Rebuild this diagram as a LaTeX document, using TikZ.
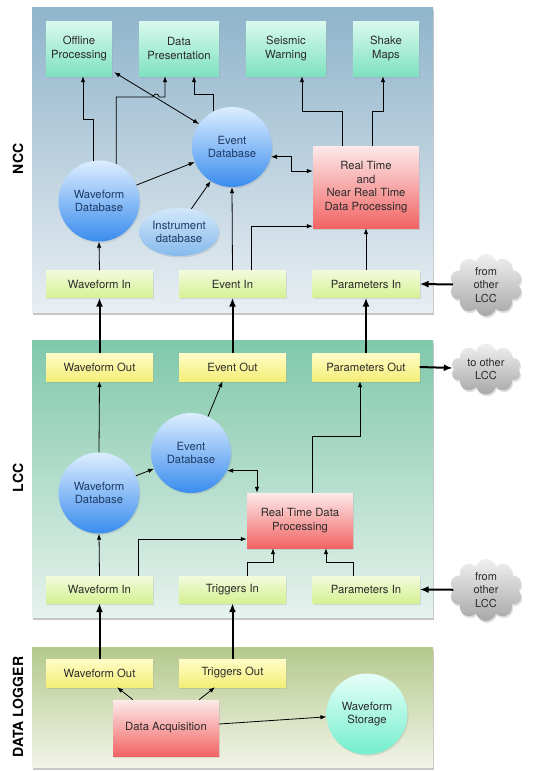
\documentclass[tikz,border=0pt]{standalone}
\usepackage{fontspec}
\setmainfont{TeX Gyre Heros}
\usetikzlibrary{arrows.meta,shapes.geometric,shapes.symbols,shadows}

\definecolor{txt}{HTML}{2B2B2B}
\definecolor{dbtxt}{HTML}{1E3A66}
\definecolor{nccTop}{HTML}{8FB4CB}
\definecolor{nccBot}{HTML}{E8EEF2}
\definecolor{lccTop}{HTML}{80C8AB}
\definecolor{lccBot}{HTML}{E6F2ED}
\definecolor{dlTop}{HTML}{B4C98C}
\definecolor{dlBot}{HTML}{F2F4E8}
\definecolor{appTop}{HTML}{DAF9EE}
\definecolor{appBot}{HTML}{7EE2BF}
\definecolor{inTop}{HTML}{F2FBDC}
\definecolor{inBot}{HTML}{D6F194}
\definecolor{outTop}{HTML}{FFFDC8}
\definecolor{outBot}{HTML}{F4EE78}
\definecolor{rtTop}{HTML}{FDEAEA}
\definecolor{rtBot}{HTML}{F26464}
\definecolor{dbTop}{HTML}{DCEEFF}
\definecolor{dbBot}{HTML}{3A8CEE}
\definecolor{insTop}{HTML}{D2E7FA}
\definecolor{insBot}{HTML}{86BAEC}
\definecolor{stTop}{HTML}{E6FFF8}
\definecolor{stBot}{HTML}{74EECD}
\definecolor{cldTop}{HTML}{F0F0F0}
\definecolor{cldBot}{HTML}{A8A8A8}

\tikzset{
  panel/.style={drop shadow={opacity=.45,shadow xshift=1pt,shadow yshift=-3pt}},
  box/.style={rectangle,align=center,text=txt,inner sep=1pt,
    font=\fontsize{11.3}{13.6}\selectfont,
    drop shadow={opacity=.2,shadow xshift=1pt,shadow yshift=-1.5pt}},
  appbox/.style={box,top color=appTop,bottom color=appBot,minimum height=55pt},
  inbox/.style={box,top color=inTop,bottom color=inBot,minimum width=107pt,minimum height=27pt},
  outbox/.style={box,top color=outTop,bottom color=outBot,minimum width=107pt,minimum height=28pt},
  rtbox/.style={box,top color=rtTop,bottom color=rtBot,minimum width=106pt},
  dbase/.style={box,circle,text=dbtxt,top color=dbTop,bottom color=dbBot,minimum size=81pt,inner sep=0pt},
  cloudy/.style={cloud,cloud puffs=10,aspect=1.3,align=center,text=txt,inner sep=0pt,
    font=\fontsize{11}{13.3}\selectfont,top color=cldTop,bottom color=cldBot,
    minimum width=70pt,minimum height=50pt,
    drop shadow={opacity=.25,shadow xshift=1pt,shadow yshift=-2pt}},
  side/.style={rotate=90,font=\fontsize{14}{16}\selectfont\bfseries,text=black},
  arr/.style={-{Latex[length=6pt,width=4.5pt]},line width=0.8pt},
  darr/.style={{Latex[length=6pt,width=4.5pt]}-{Latex[length=6pt,width=4.5pt]},line width=0.8pt},
  link/.style={-{Latex[length=9pt,width=7pt]},line width=2pt}
}

\begin{document}
\begin{tikzpicture}[x=1pt,y=1pt]
  \useasboundingbox (0,0) rectangle (544,-771);
  % panels
  \path[panel,top color=nccTop,bottom color=nccBot] (32,-7) rectangle (433,-312);
  \path[panel,top color=lccTop,bottom color=lccBot] (32,-340) rectangle (433,-617);
  \path[panel,top color=dlTop,bottom color=dlBot] (32,-647) rectangle (433,-767);
  \node[side] (lblN) at (18,-159) {NCC};
  \node[side] (lblL) at (18,-478) {LCC};
  \node[side] (lblD) at (18,-707) {DATA LOGGER};

  % NCC
  \node[appbox,minimum width=66pt] (offline) at (79,-48.5) {Offline\\Processing};
  \node[appbox,minimum width=80pt] (present) at (179,-48.5) {Data\\Presentation};
  \node[appbox,minimum width=80pt] (warning) at (286,-48.5) {Seismic\\Warning};
  \node[appbox,minimum width=66pt] (shake) at (386,-48.5) {Shake\\Maps};
  \node[dbase,minimum size=80pt] (edbN) at (232,-147) {Event\\Database};
  \node[dbase] (wdbN) at (99,-201) {Waveform\\Database};
  \node[box,ellipse,text=dbtxt,top color=insTop,bottom color=insBot,
    minimum width=80pt,minimum height=48pt,inner sep=0pt] (instr) at (179,-232) {Instrument\\database};
  \node[rtbox,minimum height=82pt] (rtN) at (366,-187) {Real Time\\and\\Near Real Time\\Data Processing};
  \node[inbox] (wfInN) at (99.5,-284) {Waveform In};
  \node[inbox] (evInN) at (232.5,-284) {Event In};
  \node[inbox] (parInN) at (366,-284) {Parameters In};
  \node[cloudy] (fromN) at (486,-285) {from\\other\\LCC};

  \draw[arr] (wdbN.98) -- ++(0,41) -| ([xshift=4pt]offline.south);
  \draw[arr] (wdbN.65) |- (153,-97) arc[start angle=180,end angle=0,radius=3] -| ([xshift=-14pt]present.south);
  \draw[arr] (edbN.117) -- ++(0,17) -| ([xshift=15pt]present.south);
  \draw[darr] ([xshift=2pt,yshift=4pt]offline.south east) -- (edbN.145);
  \draw[arr] (wdbN.23) -- (edbN.202);
  \draw[arr] (instr.62) -- (edbN.238);
  \draw[arr] (evInN.north) -- (edbN.south);
  \draw[arr] ([xshift=19pt]evInN.north) |- ([yshift=2pt]rtN.south west);
  \draw[arr] (parInN.north) -- (rtN.south);
  \draw[darr] (edbN.-14) -- ++(20,0) |- ([yshift=16pt]rtN.west);
  \draw[arr] ([xshift=-24pt]rtN.north) -- ++(0,34) -| ([xshift=16pt]warning.south);
  \draw[arr] ([xshift=6pt]rtN.north) -- ++(0,34) -| ([xshift=-3pt]shake.south);
  \draw[arr] (wfInN.north) -- (wdbN.south);
  \draw[link] (fromN) -- (parInN.east);

  % LCC
  \node[outbox] (wfOutL) at (99.5,-367) {Waveform Out};
  \node[outbox] (evOutL) at (232.5,-367) {Event Out};
  \node[outbox] (parOutL) at (366,-367) {Parameters Out};
  \node[cloudy] (toL) at (486,-369) {to other\\LCC};
  \node[dbase,minimum size=80pt] (edbL) at (191,-453) {Event\\Database};
  \node[dbase] (wdbL) at (99,-493) {Waveform\\Database};
  \node[rtbox,minimum height=55pt] (rtL) at (300,-520.5) {Real Time Data\\Processing};
  \node[inbox] (wfInL) at (99.5,-589.5) {Waveform In};
  \node[inbox] (trInL) at (232.5,-589.5) {Triggers In};
  \node[inbox] (parInL) at (366,-589.5) {Parameters In};
  \node[cloudy] (fromL) at (486,-590) {from\\other\\LCC};

  \draw[link] (wfOutL.north) -- (wfInN.south);
  \draw[link] (evOutL.north) -- (evInN.south);
  \draw[link] (parOutL.north) -- (parInN.south);
  \draw[link] (parOutL.east) -- (toL);
  \draw[arr] (wdbL.north) -- (wfOutL.south);
  \draw[arr] (edbL.65) -- ([xshift=-10pt]evOutL.south);
  \draw[arr] (wdbL.25) -- (edbL.203);
  \draw[darr] (edbL.-26) -| ([xshift=-43pt]rtL.north);
  \draw[arr] ([xshift=12pt]rtL.north) -- ++(0,56) -| ([xshift=-6pt]parOutL.south);
  \draw[arr] (wfInL.north) -- (wdbL.south);
  \draw[arr] ([xshift=38.5pt]wfInL.north) |- ([yshift=-18.5pt]rtL.west);
  \draw[arr] ([xshift=14.5pt]trInL.north) -- ++(0,13) -| ([xshift=-27pt]rtL.south);
  \draw[arr] ([xshift=-13pt]parInL.north) -- ++(0,13) -| ([xshift=26pt]rtL.south);
  \draw[link] (fromL) -- (parInL.east);

  % DATA LOGGER
  \node[outbox] (wfOutD) at (99.5,-673) {Waveform Out};
  \node[outbox] (trOutD) at (232.5,-673) {Triggers Out};
  \node[rtbox,minimum height=56pt] (daq) at (166,-728) {Data Acquisition};
  \node[dbase,text=txt,top color=stTop,bottom color=stBot] (store) at (367,-714) {Waveform\\Storage};

  \draw[link] (wfOutD.north) -- (wfInL.south);
  \draw[link] (trOutD.north) -- (trInL.south);
  \draw[arr] ([xshift=-33pt]daq.north) -- ([xshift=17.5pt]wfOutD.south);
  \draw[arr] ([xshift=33pt]daq.north) -- ([xshift=-17.5pt]trOutD.south);
  \draw[arr] ([yshift=4pt]daq.east) -- (store.184);
\end{tikzpicture}
\end{document}
